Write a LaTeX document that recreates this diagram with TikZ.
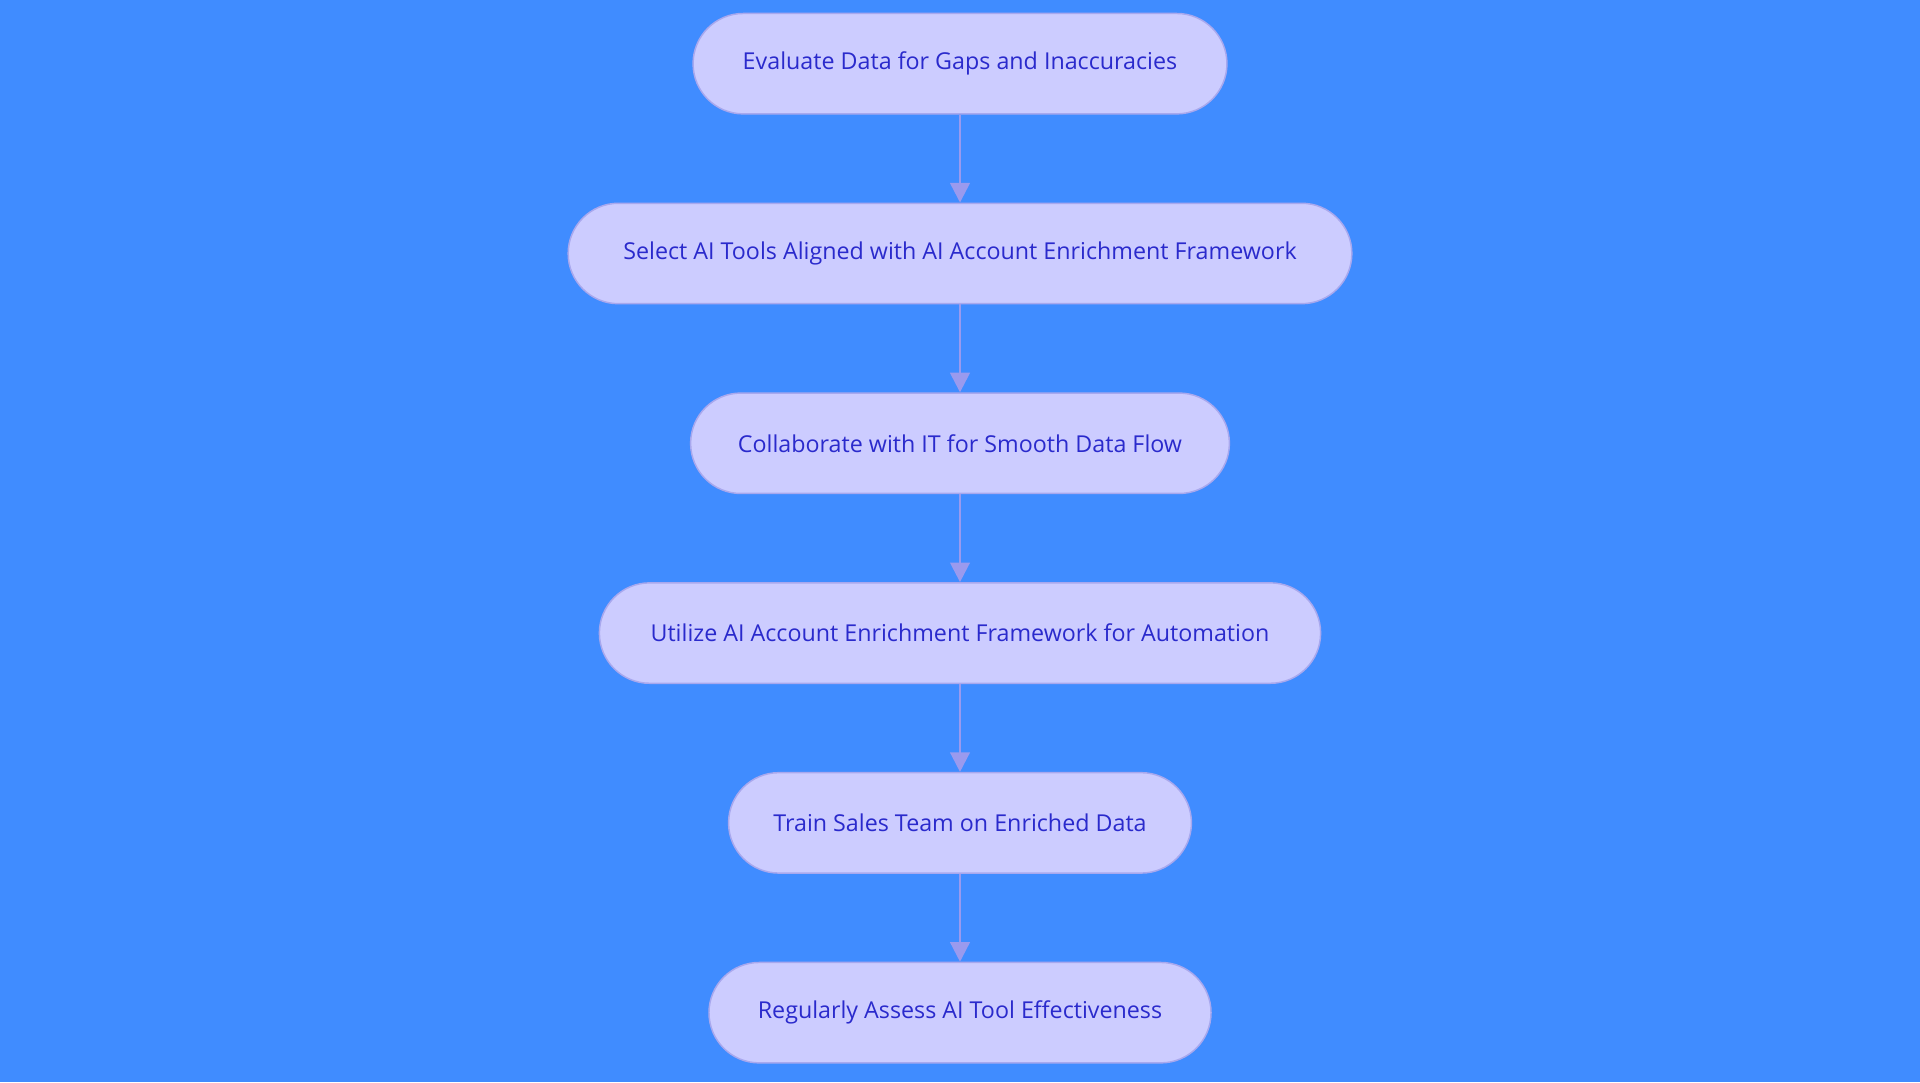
\documentclass[tikz,border=0pt]{standalone}
\usepackage{fontspec}
\setmainfont{Open Sans}
\usetikzlibrary{arrows.meta}
\definecolor{bg}{HTML}{408CFF}
\definecolor{nodefill}{HTML}{CCCCFF}
\definecolor{nodeline}{HTML}{A8A8EE}
\definecolor{txt}{HTML}{2A2ACC}
\definecolor{arr}{HTML}{9A9AEE}
\begin{document}
\begin{tikzpicture}[x=1pt,y=-1pt,
  box/.style={draw=nodeline,line width=1.2pt,fill=nodefill,rounded corners=41pt,minimum height=82pt,text=txt,font=\fontsize{19}{22}\selectfont,inner sep=0pt},
  link/.style={draw=arr,line width=2pt,-{Triangle[length=16pt,width=16pt]}}]
\fill[bg] (0,0) rectangle (1568,884);
\useasboundingbox (0,0) rectangle (1568,884);
\node[box,minimum width=436pt] (a) at (784,52) {Evaluate Data for Gaps and Inaccuracies};
\node[box,minimum width=640pt] (b) at (784,207) {Select AI Tools Aligned with AI Account Enrichment Framework};
\node[box,minimum width=440pt] (c) at (784,362) {Collaborate with IT for Smooth Data Flow};
\node[box,minimum width=589pt] (d) at (784,517) {Utilize AI Account Enrichment Framework for Automation};
\node[box,minimum width=378pt] (e) at (784,672) {Train Sales Team on Enriched Data};
\node[box,minimum width=410pt] (f) at (784,827) {Regularly Assess AI Tool Effectiveness};
\draw[link] (a) -- (b);
\draw[link] (b) -- (c);
\draw[link] (c) -- (d);
\draw[link] (d) -- (e);
\draw[link] (e) -- (f);
\end{tikzpicture}
\end{document}
